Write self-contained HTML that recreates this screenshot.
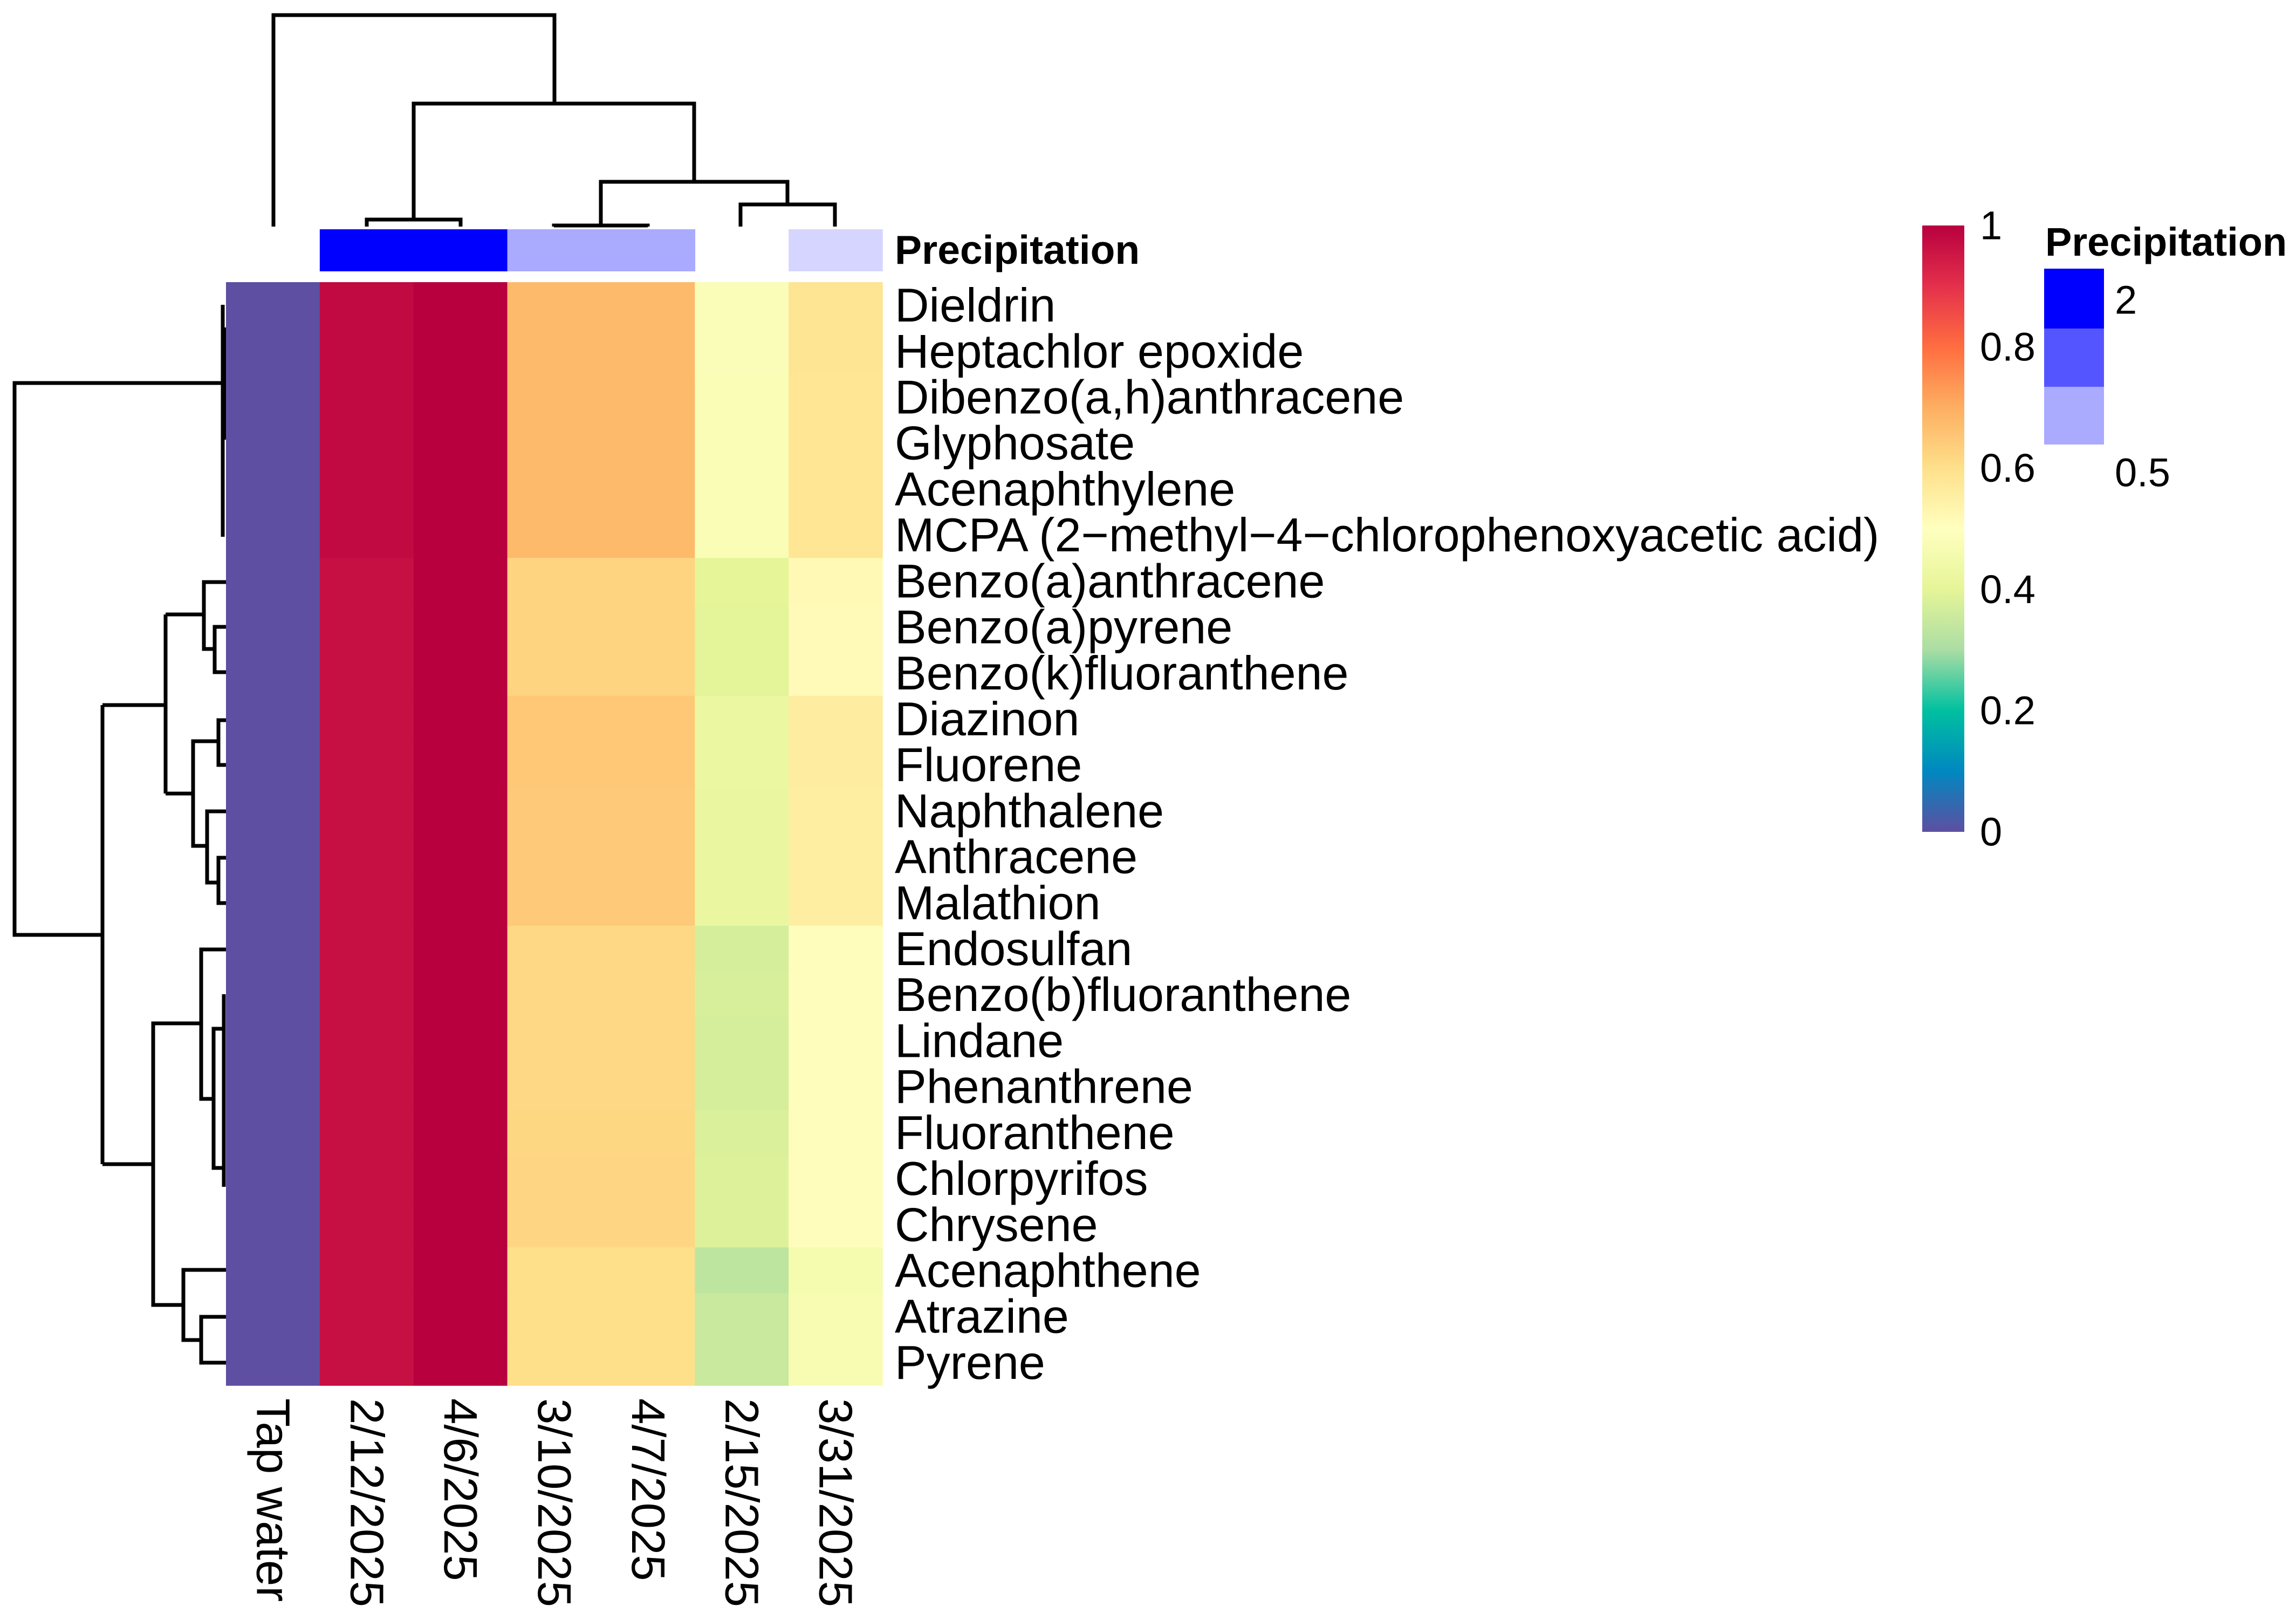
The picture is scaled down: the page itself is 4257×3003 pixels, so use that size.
<!DOCTYPE html>
<html><head><meta charset="utf-8">
<style>
html,body{margin:0;padding:0;background:#fff;}
svg{display:block;font-family:"Liberation Sans",Arial,sans-serif;}
</style></head>
<body>
<svg id="chart" width="4257" height="3003" viewBox="0 0 4257 3003">
<defs>
<linearGradient id="cbgrad" x1="0" y1="1" x2="0" y2="0">
<stop offset="0" stop-color="#5E4FA2"/>
<stop offset="0.1" stop-color="#0088C0"/>
<stop offset="0.2" stop-color="#00C0A0"/>
<stop offset="0.3" stop-color="#ABDDA4"/>
<stop offset="0.4" stop-color="#E6F598"/>
<stop offset="0.5" stop-color="#FFFFBF"/>
<stop offset="0.6" stop-color="#FEE08B"/>
<stop offset="0.7" stop-color="#FDAE61"/>
<stop offset="0.8" stop-color="#FF6D40"/>
<stop offset="0.9" stop-color="#E4304C"/>
<stop offset="1" stop-color="#B8003F"/>
</linearGradient>
</defs>
<g id="coldendro" fill="none" stroke="#000" stroke-width="7">
<path d="M507,420 V28 H1028 V192"/>
<path d="M767,407 V192 H1287 V337"/>
<path d="M680,420 V407 H854 V420"/>
<path d="M1027,420 V418 H1201 V420"/>
<path d="M1114,418 V337 H1460 V379"/>
<path d="M1373,420 V379 H1548 V420"/>
</g>
<g id="rowdendro" fill="none" stroke="#000" stroke-width="7">
<path d="M415,710 H27 V1733 H190"/>
<path d="M413,565 V995"/>
<path d="M417,607 V815"/>
<path d="M190,1307 V2158"/>
<path d="M307,1307 H190"/>
<path d="M307,1139 V1471"/>
<path d="M419,1079 H378 V1203 H398"/>
<path d="M307,1139 H378"/>
<path d="M419,1162 H398 V1246 H419"/>
<path d="M307,1471 H358 V1374 H405 V1335 H419 M405,1374 V1418 H419"/>
<path d="M358,1471 V1568 H384 V1504 H419 M384,1568 V1636 H405 V1590 H419 M405,1636 V1674 H419"/>
<path d="M190,2158 H284 V1897 H373 V1760 H419 M373,1897 V2037 H396 V1907 H415 M396,2037 V2165 H415"/>
<path d="M415,1843 V2200 M415,2000 V2100"/>
<path d="M284,2158 V2419 H340 V2354 H419 M340,2419 V2484 H373 V2441 H419 M373,2484 V2526 H419"/>
</g>
<g id="cells"></g>
<g id="annot"></g>
<g id="rowlabels"></g>
<g id="collabels"></g>
<text x="1659" y="463" font-size="75" font-weight="bold" dominant-baseline="central">Precipitation</text>
<g>
<rect x="3564" y="418" width="78" height="1124" fill="url(#cbgrad)"/>
<g id="cbticks" font-size="74"></g>
</g>
<g>
<text x="3792" y="474" font-size="74" font-weight="bold">Precipitation</text>
<rect x="3790" y="498" width="111" height="111" fill="#0000FF"/>
<rect x="3790" y="609" width="111" height="108" fill="#5555FF"/>
<rect x="3790" y="717" width="111" height="107" fill="#AAAAFF"/>
<text x="3921" y="556" font-size="74" dominant-baseline="central">2</text>
<text x="3921" y="876" font-size="74" dominant-baseline="central">0.5</text>
</g>
</svg>
<script>
const rowNames = ["Dieldrin","Heptachlor epoxide","Dibenzo(a,h)anthracene","Glyphosate","Acenaphthylene","MCPA (2\u2212methyl\u22124\u2212chlorophenoxyacetic acid)","Benzo(a)anthracene","Benzo(a)pyrene","Benzo(k)fluoranthene","Diazinon","Fluorene","Naphthalene","Anthracene","Malathion","Endosulfan","Benzo(b)fluoranthene","Lindane","Phenanthrene","Fluoranthene","Chlorpyrifos","Chrysene","Acenaphthene","Atrazine","Pyrene"];
const colNames = ["Tap water","2/12/2025","4/6/2025","3/10/2025","4/7/2025","2/15/2025","3/31/2025"];
const precipitation = [null, 2, 2, 0.5, 0.5, null, 0.12];
const tapWater = [0,0,0,0,0,0,0,0,0,0,0,0,0,0,0,0,0,0,0,0,0,0,0,0];
const feb12 = [0.98,0.98,0.98,0.98,0.98,0.98,0.968,0.968,0.968,0.968,0.968,0.968,0.968,0.968,0.968,0.968,0.968,0.968,0.968,0.968,0.968,0.968,0.968,0.968];
const apr6 = [1,1,1,1,1,1,1,1,1,1,1,1,1,1,1,1,1,1,1,1,1,1,1,1];
const mar10 = [0.676,0.676,0.676,0.676,0.676,0.676,0.624,0.624,0.624,0.648,0.648,0.645,0.645,0.645,0.616,0.616,0.616,0.616,0.618,0.62,0.62,0.6,0.6,0.6];
const apr7 = [0.676,0.676,0.676,0.676,0.676,0.676,0.624,0.624,0.624,0.648,0.648,0.645,0.645,0.645,0.616,0.616,0.616,0.616,0.618,0.62,0.62,0.6,0.6,0.6];
const feb15 = [0.48,0.48,0.475,0.475,0.475,0.475,0.4,0.395,0.395,0.424,0.424,0.42,0.42,0.42,0.37,0.375,0.37,0.37,0.38,0.385,0.385,0.332,0.35,0.35];
const mar31 = [0.583,0.583,0.58,0.58,0.58,0.58,0.519,0.515,0.515,0.56,0.56,0.555,0.555,0.555,0.506,0.506,0.506,0.506,0.506,0.506,0.506,0.46,0.47,0.47];
const seriesByCol = [tapWater, feb12, apr6, mar10, apr7, feb15, mar31];
const cbTicks = [0,0.2,0.4,0.6,0.8,1];
const cbTickLabels = ["0","0.2","0.4","0.6","0.8","1"];

const NS="http://www.w3.org/2000/svg";
const X0=419, X1=1636, Y0=523, Y1=2568;
const cw=(X1-X0)/colNames.length, rh=(Y1-Y0)/rowNames.length;
const xCol=i=>X0+i*cw, yRow=j=>Y0+j*rh;
const stops=[[0,[0x5E,0x4F,0xA2]],[0.1,[0x00,0x88,0xC0]],[0.2,[0x00,0xC0,0xA0]],[0.3,[0xAB,0xDD,0xA4]],[0.4,[0xE6,0xF5,0x98]],[0.5,[0xFF,0xFF,0xBF]],[0.6,[0xFE,0xE0,0x8B]],[0.7,[0xFD,0xAE,0x61]],[0.8,[0xFF,0x6D,0x40]],[0.9,[0xE4,0x30,0x4C]],[1,[0xB8,0x00,0x3F]]];
function colorOf(v){v=Math.max(0,Math.min(1,v));for(let k=0;k<stops.length-1;k++){const a=stops[k],b=stops[k+1];if(v<=b[0]){const t=(v-a[0])/(b[0]-a[0]);const c=a[1].map((x,i)=>Math.round(x+(b[1][i]-x)*t));return `rgb(${c[0]},${c[1]},${c[2]})`;}}return "rgb(184,0,63)";}
function precipColor(v){if(v===null)return null;const r=Math.max(0,Math.min(255,Math.round(170-(v-0.5)*113.3)));return `rgb(${r},${r},255)`;}
const cells=document.getElementById('cells');
seriesByCol.forEach((vals,i)=>{vals.forEach((v,j)=>{
 const r=document.createElementNS(NS,'rect');
 r.setAttribute('x',xCol(i));r.setAttribute('y',yRow(j));
 r.setAttribute('width',cw+0.8);r.setAttribute('height',rh+0.8);
 r.setAttribute('fill',colorOf(v));
 
 
 cells.appendChild(r);});});
const annot=document.getElementById('annot');
precipitation.forEach((v,i)=>{const c=precipColor(v);if(!c)return;
 const r=document.createElementNS(NS,'rect');
 r.setAttribute('x',xCol(i));r.setAttribute('y',425);r.setAttribute('width',cw+0.8);r.setAttribute('height',78);
 r.setAttribute('fill',c);
 
 
 annot.appendChild(r);});
const rl=document.getElementById('rowlabels');
rowNames.forEach((n,j)=>{const t=document.createElementNS(NS,'text');
 t.setAttribute('x',1659);t.setAttribute('y',yRow(j)+rh/2);t.setAttribute('font-size',88);t.setAttribute('dominant-baseline','central');
 t.textContent=n;
 
 
 rl.appendChild(t);});
const cl=document.getElementById('collabels');
colNames.forEach((n,i)=>{const t=document.createElementNS(NS,'text');const cx=xCol(i)+cw/2;
 t.setAttribute('x',cx);t.setAttribute('y',2592);t.setAttribute('font-size',87);t.setAttribute('dominant-baseline','central');
 t.setAttribute('transform',`rotate(90 ${cx} 2592)`);
 t.textContent=n;
 
 
 cl.appendChild(t);});
const cb=document.getElementById('cbticks');
cbTicks.forEach((v,k)=>{const t=document.createElementNS(NS,'text');
 t.setAttribute('x',3671);t.setAttribute('y',1542-v*1124);t.setAttribute('dominant-baseline','central');
 t.textContent=cbTickLabels[k];
 
 
 cb.appendChild(t);});
</script>
</body></html>
